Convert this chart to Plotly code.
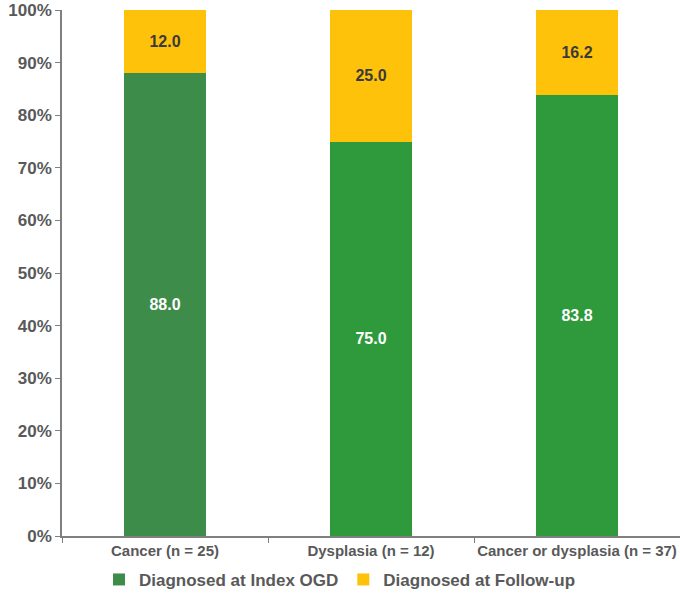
import plotly.graph_objects as go

categories = ["Cancer (n = 25)", "Dysplasia (n = 12)", "Cancer or dysplasia (n = 37)"]
index_ogd = [88.0, 75.0, 83.8]
follow_up = [12.0, 25.0, 16.2]
series_names = ["Diagnosed at Index OGD", "Diagnosed at Follow-up"]
y_ticks = [0, 10, 20, 30, 40, 50, 60, 70, 80, 90, 100]
y_tick_labels = [f"{v}%" for v in y_ticks]

green_cols = ["#3d8c49", "#2e9a3c", "#2e9a3c"]
yellow = "#ffc20a"
FONT = "Liberation Sans, Arial, sans-serif"

fig = go.Figure()
fig.add_trace(go.Bar(
    x=categories, y=index_ogd, name=series_names[0],
    marker=dict(color=green_cols, line=dict(width=0)),
    text=[f"{v:.1f}" for v in index_ogd], textposition="inside",
    insidetextanchor="middle",
    textfont=dict(family=FONT, size=16, color="white", weight="bold"),
    width=0.4,
))
fig.add_trace(go.Bar(
    x=categories, y=follow_up, name=series_names[1],
    marker=dict(color=yellow, line=dict(width=0)),
    text=[f"{v:.1f}" for v in follow_up], textposition="inside",
    insidetextanchor="middle",
    textfont=dict(family=FONT, size=16, color="#3a3a3a", weight="bold"),
    width=0.4,
))

fig.update_layout(
    barmode="stack",
    width=680, height=596,
    margin=dict(l=62, r=0, t=10, b=60, autoexpand=False),
    plot_bgcolor="white", paper_bgcolor="white",
    font=dict(family=FONT, color="#595959"),
    showlegend=True,
    legend=dict(orientation="h", xref="container", yref="container",
                x=0.5, xanchor="center", y=0.027, yanchor="middle",
                font=dict(size=17, color="#595959", weight="bold"),
                traceorder="normal", itemwidth=30),
    uniformtext=dict(mode="show", minsize=10),
)
fig.update_yaxes(
    range=[0, 100], tickvals=y_ticks, ticktext=y_tick_labels,
    showgrid=False, showline=True, linecolor="#7f7f7f", linewidth=1.5,
    ticks="outside", ticklen=5, tickcolor="#7f7f7f",
    tickfont=dict(size=17, color="#595959", weight="bold"), zeroline=False,
    automargin=False,
)
fig.update_xaxes(
    showline=True, linecolor="#7f7f7f", linewidth=1.5,
    ticks="outside", tickson="boundaries", ticklen=5, tickcolor="#7f7f7f",
    tickfont=dict(size=15, color="#595959", weight="bold"),
    tickangle=0, automargin=False,
)

fig.write_html("out.html",
               config={"displayModeBar": False},
               post_script="document.body.style.margin='0';document.body.style.overflow='hidden';")
